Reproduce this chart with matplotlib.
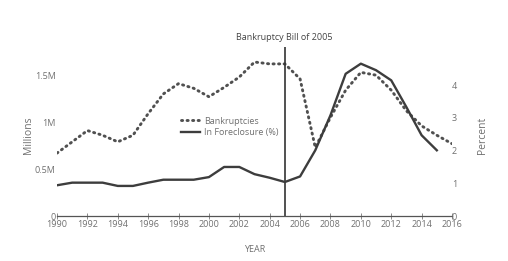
import matplotlib
matplotlib.use("Agg")
import matplotlib.pyplot as plt

years = list(range(1990, 2017))
bankruptcies = [0.67, 0.79, 0.91, 0.86, 0.79, 0.86, 1.09, 1.30, 1.41, 1.36, 1.27, 1.37, 1.48,
                1.64, 1.62, 1.62, 1.46, 0.73, 1.05, 1.34, 1.53, 1.50, 1.34, 1.12, 0.96, 0.86, 0.77]
fc_years = list(range(1990, 2016))
foreclosure = [0.94, 1.02, 1.02, 1.02, 0.92, 0.92, 1.02, 1.11, 1.11, 1.11, 1.19, 1.50, 1.50,
               1.28, 1.17, 1.04, 1.21, 2.01, 3.08, 4.35, 4.66, 4.46, 4.15, 3.33, 2.47, 2.01]
x_ticks = list(range(1990, 2017, 2))
left_ticks = [0, 0.5, 1.0, 1.5]
left_labels = ["0", "0.5M", "1M", "1.5M"]
right_ticks = [0, 1, 2, 3, 4]

plt.rcParams['font.family'] = ['Open Sans', 'DejaVu Sans']
txt = '#707070'
line_c = '#3d3d3d'

fig = plt.figure(figsize=(5.08, 2.61), dpi=100)
ax = fig.add_axes([57/508, 1-216/261, (452-57)/508, (216-47)/261])
ax2 = ax.twinx()

ax.plot(years, bankruptcies, color='#505050', lw=2.1, linestyle=(0, (0.4, 1.5)),
        dash_capstyle='round', label='Bankruptcies')
ax2.plot(fc_years, foreclosure, color=line_c, lw=1.7, label='In Foreclosure (%)')
ax.axvline(2005, color='#333333', lw=1.2)

ax.set_xlim(1990, 2016)
ax.set_ylim(0, 1.80)
ax2.set_ylim(0, 5.17)

for a in (ax, ax2):
    for s in a.spines.values():
        s.set_visible(False)
ax.spines['bottom'].set_visible(True)
ax.spines['bottom'].set_color('#555555')
ax.spines['bottom'].set_linewidth(0.9)

ax.set_xticks(x_ticks)
ax.tick_params(axis='x', direction='inout', length=5, width=0.6, color='#777777',
               labelsize=6.5, labelcolor=txt, pad=0.5)
ax.set_yticks(left_ticks)
ax.set_yticklabels(left_labels)
ax.tick_params(axis='y', length=0, labelsize=6.5, labelcolor=txt, pad=1)
ax2.set_yticks(right_ticks)
ax2.tick_params(axis='y', length=0, labelsize=6.5, labelcolor=txt, pad=0)

fig.text(28/508, 1-135/261, 'Millions', rotation=90, ha='center', va='center', fontsize=7.5, color=txt)
fig.text(483/508, 1-135/261, 'Percent', rotation=90, ha='center', va='center', fontsize=7.5, color=txt)
fig.text(255/508, 1-250/261, 'YEAR', ha='center', va='center', fontsize=6.5, color=txt)
fig.text(284/508, 1-37/261, 'Bankruptcy Bill of 2005', ha='center', va='center', fontsize=6.5, color='#444444')

h1, l1 = ax.get_legend_handles_labels()
h2, l2 = ax2.get_legend_handles_labels()
leg = ax.legend(h1 + h2, l1 + l2, loc='upper left', bbox_to_anchor=((177-57)/395, (216-113)/169),
                frameon=False, fontsize=6.5, handlelength=2.2, handletextpad=0.4,
                labelspacing=0.3, borderaxespad=0)
for t in leg.get_texts():
    t.set_color(txt)

fig.savefig('out.png', dpi=100)
